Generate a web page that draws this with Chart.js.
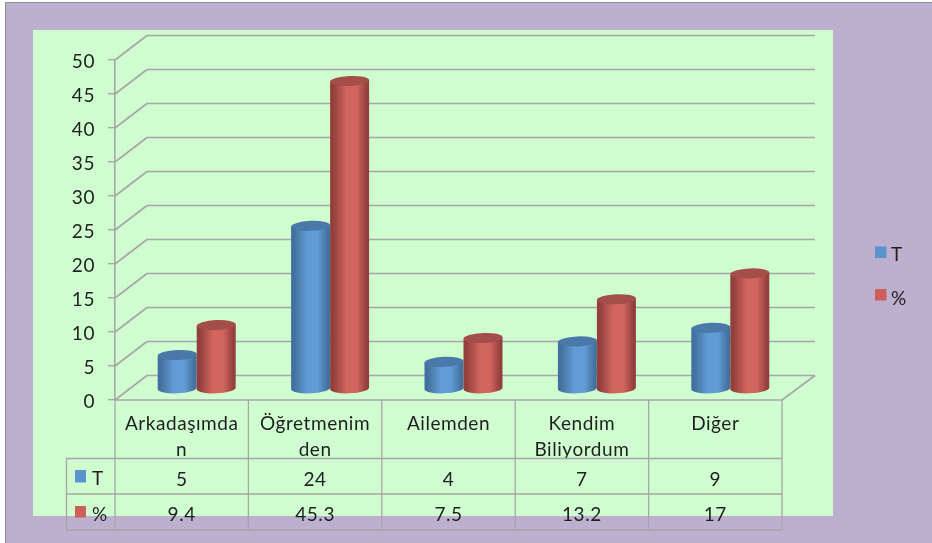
<!DOCTYPE html>
<html>
<head>
<meta charset="utf-8">
<style>
html,body{margin:0;padding:0;background:#fff;overflow:hidden}
#wrap{width:932px;height:543px;position:relative}
canvas{filter:blur(0.5px)}
</style>
<script src="https://cdn.jsdelivr.net/npm/chart.js@4"></script>
</head>
<body>
<div id="wrap"><canvas id="c" width="932" height="543"></canvas></div>
<script>
const categories = [["Arkadaşımda","n"],["Öğretmenim","den"],["Ailemden"],["Kendim","Biliyordum"],["Diğer"]];
const seriesT = [5,24,4,7,9];
const seriesPct = [9.4,45.3,7.5,13.2,17];
const rowT = ["5","24","4","7","9"];
const rowPct = ["9.4","45.3","7.5","13.2","17"];
const yTicks = [0,5,10,15,20,25,30,35,40,45,50];

const FONT = 'Lato, Carlito, sans-serif';
const GRID = '#a6a6a6';
const INK = '#1f1f1f';
const DEPTH_X = 32, DEPTH_Y = 24.5;
const BAR_DX = 15, BAR_DY = 11;
const palette = {
  T:{swatch:'#5b93cd',edge:'#42719f',mid:'#629cd6',top:'#4a78a8'},
  P:{swatch:'#cd5f5a',edge:'#93403c',mid:'#d3655f',top:'#a44e49'}
};

function line(ctx,x1,y1,x2,y2){ctx.beginPath();ctx.moveTo(x1,y1);ctx.lineTo(x2,y2);ctx.stroke();}

const scene = {
  id:'scene',
  afterLayout(chart){
    chart.scales.y.getLabelItems().forEach(it=>{it.options.translation[1]+=1.5;});
  },
  beforeDraw(chart){
    const c = chart.ctx;
    c.letterSpacing='0.55px';
    c.save();
    c.fillStyle='#ffffff'; c.fillRect(0,0,932,543);
    c.fillStyle='#bdb0cf'; c.fillRect(5,2,927,541);
    c.strokeStyle='#8d8a94'; c.lineWidth=1;
    line(c,5.5,2.5,932,2.5); line(c,5.5,2.5,5.5,543);
    c.fillStyle='#cffdd0'; c.fillRect(33,30,800,486);
    c.restore();
  },
  beforeDatasetsDraw(chart){
    const c = chart.ctx, y = chart.scales.y, a = chart.chartArea;
    c.save();
    c.strokeStyle=GRID; c.lineWidth=1.6;
    yTicks.forEach(v=>{
      const py = y.getPixelForValue(v);
      line(c,a.left,py,a.left+DEPTH_X,py-DEPTH_Y);
      line(c,a.left+DEPTH_X,py-DEPTH_Y,a.right+DEPTH_X+1,py-DEPTH_Y);
    });
    const p0 = y.getPixelForValue(0);
    line(c,a.right,p0,a.right+DEPTH_X+1,p0-DEPTH_Y);
    line(c,a.left,p0,a.right,p0);
    const keys=['T','P'];
    const n = chart.data.labels.length;
    for(let i=0;i<n;i++){
      chart.data.datasets.forEach((ds,di)=>{
        const el = chart.getDatasetMeta(di).data[i];
        cylinder(c,el.x+BAR_DX,el.y-BAR_DY,el.base-BAR_DY,el.width,palette[keys[di]]);
      });
    }
    c.restore();
    return false;
  },
  afterDraw(chart){
    const c = chart.ctx, a = chart.chartArea, x = chart.scales.x;
    const rows=[400,458.5,494,530];
    const step=(a.right-a.left)/chart.data.labels.length;
    c.save();
    c.strokeStyle=GRID; c.lineWidth=1.3;
    for(let i=0;i<=5;i++){ const px=a.left+i*step; line(c,px,400,px,rows[3]); }
    rows.slice(1).forEach(r=>line(c,66,r,a.right,r));
    line(c,66.5,rows[1],66.5,rows[3]);
    c.font='19px '+FONT; c.fillStyle=INK; c.textAlign='center'; c.textBaseline='middle';
    chart.data.labels.forEach((_,i)=>{
      const px=x.getPixelForValue(i);
      c.fillText(rowT[i],px,480);
      c.fillText(rowPct[i],px,515);
    });
    c.textAlign='left';
    c.fillStyle=palette.T.swatch; c.fillRect(75,470,11,12.5);
    c.fillStyle=palette.P.swatch; c.fillRect(75,506,11,11.5);
    c.fillStyle=INK;
    c.fillText(chart.data.datasets[0].label,92,479);
    c.fillText(chart.data.datasets[1].label,92,515);
    c.fillStyle=palette.T.swatch; c.fillRect(875,246.5,11.5,11.5);
    c.fillStyle=palette.P.swatch; c.fillRect(875,289,11.5,11.5);
    c.fillStyle=INK;
    c.fillText(chart.data.datasets[0].label,891,254.5);
    c.fillText(chart.data.datasets[1].label,891,299);
    c.restore();
  }
};

function cylinder(c,cx,top,base,w,col){
  const rx=w/2, ry=5, rot=-0.045, l=cx-rx, r=cx+rx;
  const g=c.createLinearGradient(l,0,r,0);
  g.addColorStop(0,col.edge); g.addColorStop(0.08,col.edge);
  g.addColorStop(0.42,col.mid); g.addColorStop(0.68,col.mid);
  g.addColorStop(0.94,col.edge); g.addColorStop(1,col.edge);
  c.fillStyle=g;
  c.beginPath();
  c.moveTo(l,top+1);
  c.lineTo(l,base+1);
  c.ellipse(cx,base,rx,ry,rot,Math.PI,0,true);
  c.lineTo(r,top-1);
  c.closePath();
  c.fill();
  c.fillStyle=col.top;
  c.beginPath();
  c.ellipse(cx,top,rx,ry,rot,0,Math.PI*2);
  c.fill();
}

new Chart(document.getElementById('c'),{
  type:'bar',
  data:{labels:categories,datasets:[
    {label:'T',data:seriesT,backgroundColor:palette.T.swatch},
    {label:'%',data:seriesPct,backgroundColor:palette.P.swatch}
  ]},
  plugins:[scene],
  options:{
    responsive:false,animation:false,
    categoryPercentage:0.585,barPercentage:1,
    layout:{padding:{top:60,right:150,left:0,bottom:0}},
    plugins:{legend:{display:false},tooltip:{enabled:false}},
    scales:{
      y:{min:0,max:50,
        afterFit(s){s.width=115;},
        ticks:{stepSize:5,padding:13,color:INK,font:{family:FONT,size:19}},
        grid:{drawOnChartArea:false,tickLength:7,color:GRID,lineWidth:1.4},
        border:{color:GRID,width:1.6}
      },
      x:{
        afterFit(s){s.height=143;s.paddingLeft=0;s.paddingRight=0;},
        ticks:{padding:3,autoSkip:false,maxRotation:0,minRotation:0,color:INK,font:{family:FONT,size:19,lineHeight:1.37}},
        grid:{display:false},border:{display:false}
      }
    }
  }
});
</script>
</body>
</html>
